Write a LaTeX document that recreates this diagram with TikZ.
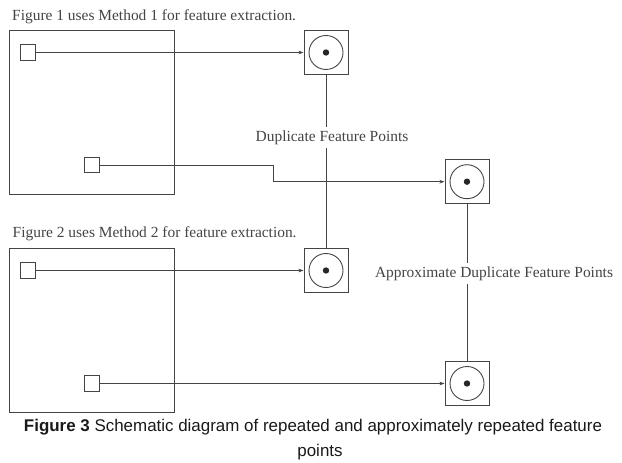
\documentclass[tikz,border=0pt]{standalone}
\usepackage{fontspec}
\setmainfont{Liberation Serif}
\setsansfont{Liberation Sans}
\usepackage{tikz}
\usetikzlibrary{arrows.meta}
\definecolor{inkgrey}{HTML}{444444}

\begin{document}
\begin{tikzpicture}[
    x=1bp, y=-1bp,
    >={Stealth[length=5bp,width=3.6bp]},
    every node/.style={text=inkgrey},
    heading/.style={font=\fontsize{15.5}{18}\selectfont, anchor=base west, inner sep=0pt},
    imgframe/.style={
      draw=inkgrey, line width=1bp, inner sep=0pt,
      minimum width=164bp, minimum height=164bp
    },
    featpt/.style={draw=inkgrey, line width=1bp, minimum size=15.5bp, inner sep=0pt},
    target/.style={
      draw=inkgrey, line width=1bp, minimum size=44bp, inner sep=0pt,
      path picture={
        \draw[inkgrey, line width=0.9bp] (path picture bounding box.center) circle[radius=17bp];
        \fill[black!85] (path picture bounding box.center) circle[radius=3.2bp];
      }
    },
    arrow/.style={->, draw=inkgrey, line width=0.9bp},
    link/.style={draw=inkgrey, line width=0.9bp},
    linklabel/.style={
      font=\fontsize{15.5}{18}\selectfont, fill=white,
      anchor=base, inner sep=3.5bp
    },
    figcaption/.style={font=\sffamily\fontsize{17}{24}\selectfont, text=black!90, anchor=base}
  ]
  \useasboundingbox (0,0) rectangle (622,463);

  % ===== figure 1 =====
  \node[heading] (head1) at (12,20.7) {Figure 1 uses Method 1 for feature extraction.};
  \node[imgframe] (fig1) at (92,113) {};
  \node[featpt] (pt1a) at (28,52.5) {};
  \node[featpt] (pt1b) at (92,165) {};

  % ===== figure 2 =====
  \node[heading] (head2) at (12.5,237.3) {Figure 2 uses Method 2 for feature extraction.};
  \node[imgframe, minimum height=163bp] (fig2) at (92,330.5) {};
  \node[featpt] (pt2a) at (28,270.5) {};
  \node[featpt] (pt2b) at (92,383.5) {};

  % ===== matched points =====
  \node[target] (tg1) at (326,52.5) {};
  \node[target] (tg2) at (467,181.7) {};
  \node[target] (tg3) at (326,270.5) {};
  \node[target] (tg4) at (467,383.5) {};

  \draw[arrow] (pt1a) -- (tg1);
  \draw[arrow] (pt1b.east) -- ++(173,0) |- (tg2.west);
  \draw[arrow] (pt2a) -- (tg3);
  \draw[arrow] (pt2b) -- (tg4);

  \draw[link] (tg1) -- (tg3);
  \draw[link] (tg2) -- (tg4);
  \node[linklabel] (dup) at (332,141.7) {Duplicate Feature Points};
  \node[linklabel] (approx) at (494,277.3) {Approximate Duplicate Feature Points};

  % ===== caption =====
  \node[figcaption] (cap1) at (313,431.7)
    {\textbf{Figure 3} Schematic diagram of repeated and approximately repeated feature};
  \node[figcaption] (cap2) at (320,456) {points};

\end{tikzpicture}
\end{document}
